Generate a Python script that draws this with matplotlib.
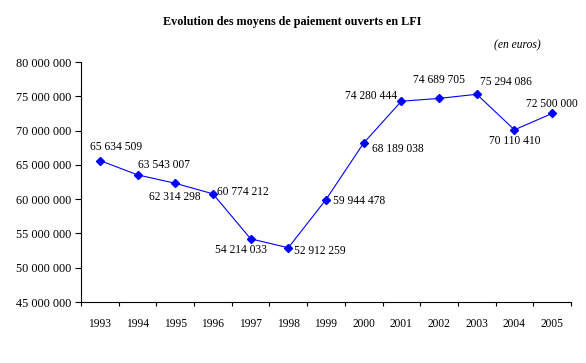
import matplotlib.pyplot as plt
from matplotlib.ticker import FuncFormatter

plt.rcParams['font.family'] = ['Liberation Serif', 'DejaVu Serif']

years = ['1993', '1994', '1995', '1996', '1997', '1998', '1999',
         '2000', '2001', '2002', '2003', '2004', '2005']
values = [65634509, 63543007, 62314298, 60774212, 54214033, 52912259, 59944478,
          68189038, 74280444, 74689705, 75294086, 70110410, 72500000]

# label placement per point: (dx, dy) in points, horizontal alignment
lbl_pos = [((12, 10), 'center'), ((19, 7), 'center'), ((0, -10), 'center'),
           ((3, 1), 'left'), ((-7, -8), 'center'), ((4, -2), 'left'),
           ((5, -1), 'left'), ((6, -4), 'left'), ((-3, 4), 'right'),
           ((0, 13), 'center'), ((2, 9), 'left'), ((0, -8), 'center'),
           ((0, 7), 'center')]

def spaced(v, _=None):
    return f'{int(v):,}'.replace(',', ' ')

fig = plt.figure(figsize=(5.86, 3.63), dpi=100)
ax = fig.add_axes([81/586, 1 - 302/363, 490/586, 240/363])

x = list(range(len(years)))
ax.plot(x, values, color='#0000FF', linewidth=0.8, marker='D', markersize=4.5,
        markerfacecolor='#0000FF', markeredgecolor='#0000FF')

for xi, v, (off, ha) in zip(x, values, lbl_pos):
    ax.annotate(spaced(v), (xi, v), xytext=off, textcoords='offset points',
                ha=ha, va='center', fontsize=8.3)

ax.set_xlim(-0.5, len(years) - 0.5)
ax.set_ylim(45000000, 80000000)
ax.set_yticks(range(45000000, 80000001, 5000000))
ax.yaxis.set_major_formatter(FuncFormatter(spaced))

ax.set_xticks([i - 0.5 for i in range(len(years) + 1)])
ax.set_xticklabels([])
ax.set_xticks(x, minor=True)
ax.set_xticklabels(years, minor=True)
ax.tick_params(axis='x', which='major', direction='out', length=3, width=0.8)
ax.tick_params(axis='x', which='minor', length=0, pad=11.5, labelsize=8.3)
ax.tick_params(axis='y', direction='out', length=4, width=0.8, pad=3, labelsize=8.8)

for s in ['top', 'right']:
    ax.spines[s].set_visible(False)
for s in ['left', 'bottom']:
    ax.spines[s].set_linewidth(0.8)

fig.text(292/586, 1 - 22/363, 'Evolution des moyens de paiement ouverts en LFI',
         ha='center', va='center', fontsize=8.7, fontweight='bold')
fig.text(517/586, 1 - 45/363, '(en euros)', ha='center', va='center',
         fontsize=8.3, style='italic')

fig.savefig('out.png', dpi=100)
